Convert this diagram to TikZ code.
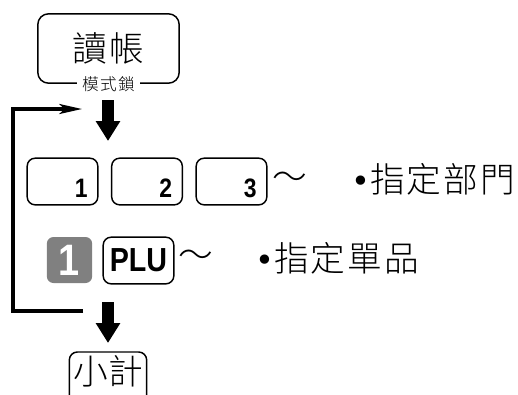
\documentclass[tikz,border=0pt]{standalone}
\usepackage{fontspec}
\setmainfont{Liberation Sans}
\newfontfamily\cjk{Noto Sans CJK TC Light}
\newfontfamily\symfont{DejaVu Sans}
\newfontfamily\keyfont[FakeStretch=0.86]{Liberation Sans}
\usetikzlibrary{arrows.meta,positioning}
\definecolor{keygray}{HTML}{808080}

\begin{document}
\begin{tikzpicture}[x=0.75pt,y=-0.75pt,
		keybox/.style={draw,line width=1.1pt,rounded corners=6pt,minimum width=53pt,minimum height=35pt,inner sep=0pt},
		keynum/.style={font=\keyfont\bfseries\fontsize{20}{20}\selectfont,inner sep=0pt},
		cjktext/.style={font=\cjk\fontsize{26}{26}\selectfont\addfontfeature{LetterSpace=6},inner sep=0pt},
		bigarrow/.style={line width=8.5pt,-{Triangle[length=15pt,width=17.5pt]}},
		loopline/.style={line width=2.3pt,-{Stealth[length=17pt,width=7.5pt,inset=4pt]}}]
			\useasboundingbox (0,0) rectangle (518,394);
			\node[keybox,minimum width=106pt,minimum height=52pt,rounded corners=8pt,font=\cjk\fontsize{26}{26}\selectfont\addfontfeature{LetterSpace=8}] (readmode) at (108.5,48.5) {讀帳};
			\node[fill=white,inner xsep=4pt,inner ysep=1pt,font=\cjk\fontsize{12.5}{12.5}\selectfont\addfontfeature{LetterSpace=8}] (lockmode) at (readmode.south) {模式鎖};
			\coordinate (downA) at (108,100);
			\coordinate (downAend) at (108,141);
			\draw[bigarrow] (downA) -- (downAend);
			\node[keybox] (dept1) at (62.5,181.5) {};
			\node[keybox] (dept2) at (147,181.5) {};
			\node[keybox] (dept3) at (231.5,181.5) {};
			\node[keynum,anchor=south east] (num1) at ([xshift=-8pt,yshift=6pt]dept1.south east) {1};
			\node[keynum,anchor=south east] (num2) at ([xshift=-8pt,yshift=6pt]dept2.south east) {2};
			\node[keynum,anchor=south east] (num3) at ([xshift=-8pt,yshift=6pt]dept3.south east) {3};
			\node[cjktext] (wave1) at (289.5,181) {～};
			\node[cjktext,anchor=west] (deptlabel) at (351,179) {{\symfont\fontsize{24}{24}\selectfont•}指定部門};
			\node[fill=keygray,rounded corners=5pt,minimum width=34pt,minimum height=34.5pt,inner sep=0pt,text=white,font=\keyfont\bfseries\fontsize{33}{33}\selectfont] (qty) at (69.5,260) {1};
			\node[keybox,font=\keyfont\bfseries\fontsize{25}{25}\selectfont] (plu) at (138.5,260.5) {PLU};
			\node[cjktext] (wave2) at (195.5,259) {～};
			\node[cjktext,anchor=west] (plulabel) at (255,258) {{\symfont\fontsize{24}{24}\selectfont•}指定單品};
			\coordinate (downB) at (108,302);
			\coordinate (downBend) at (108,343);
			\draw[bigarrow] (downB) -- (downBend);
			\coordinate (loopin) at (83,311);
			\coordinate (loopleft) at (13,210);
			\coordinate (loopout) at (82,109);
			\draw[loopline] (loopin) -| (loopleft) |- (loopout);
			\node[keybox,minimum width=52pt,minimum height=0pt,inner sep=3pt,text height=21pt,text depth=20pt,anchor=base,font=\cjk\fontsize{26}{26}\selectfont] (subtotal) at (108,384) {小計};
		\end{tikzpicture}
\end{document}
